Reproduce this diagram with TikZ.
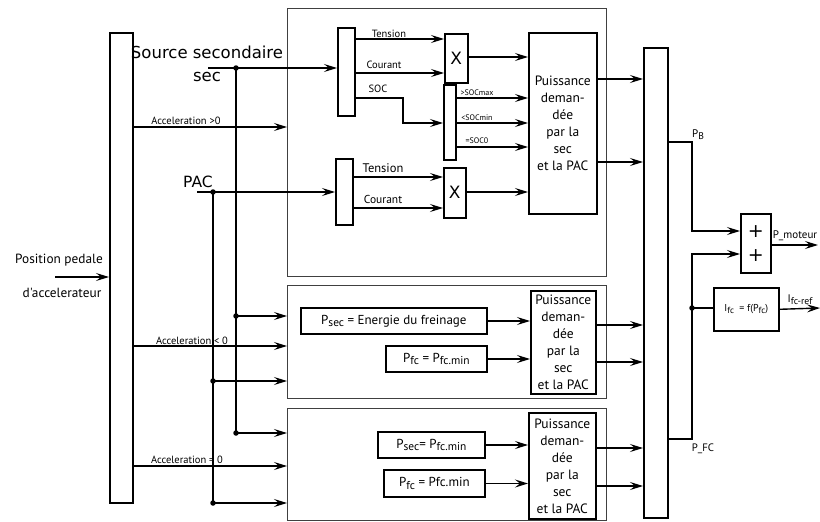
\documentclass[tikz,border=0pt]{standalone}
\usepackage{fontspec}
\setmainfont{DejaVu Sans}
\newfontfamily\pts{PT Sans}
\usetikzlibrary{arrows.meta}
\newcommand\lowr[1]{\raisebox{-0.4ex}{\scalebox{0.88}{#1}}}
\begin{document}
\begin{tikzpicture}[x=1pt,y=-1pt,
  blk/.style={draw, line width=1.6pt, inner sep=0pt, anchor=north west},
  grp/.style={draw=black!75, line width=0.8pt, inner sep=0pt, anchor=north west},
  ln/.style={line width=1.4pt},
  con/.style={line width=1.4pt, -{Stealth[length=13pt,width=8pt,inset=5pt]}},
  dot/.style={circle, fill, inner sep=0pt, minimum size=5.5pt},
  lbl/.style={inner sep=0pt, font=\pts\fontsize{10.5}{11}\selectfont},
  pd/.style={blk, align=center, font=\pts\fontsize{13.5}{17}\selectfont},
  eq/.style={blk, line width=1.8pt, font=\pts\fontsize{13}{14}\selectfont, anchor=west, inner xsep=2pt}]
\useasboundingbox (0,0) rectangle (820,522);
% group boxes
\node[grp, minimum width=319pt, minimum height=268pt] (topgrp) at (287,8) {};
\node[grp, minimum width=319pt, minimum height=113pt] (midgrp) at (287,285) {};
\node[grp, minimum width=319pt, minimum height=112pt] (botgrp) at (287,408) {};
% main blocks
\node[blk, minimum width=23pt, minimum height=470pt] (L) at (109,32) {};
\node[blk, minimum width=24pt, minimum height=470pt] (R) at (643,47) {};
\node[blk, minimum width=17pt, minimum height=88pt] (S1) at (337,27) {};
\node[blk, minimum width=17pt, minimum height=66pt] (S2) at (335,158) {};
\node[blk, minimum width=23pt, minimum height=49pt, font=\fontsize{17}{18}\selectfont] (X1) at (444,33) {X};
\node[blk, minimum width=22pt, minimum height=50pt, font=\fontsize{17}{18}\selectfont] (X2) at (443,167) {X};
\node[blk, minimum width=12pt, minimum height=75pt] (SOCs) at (443,84) {};
\node[pd, minimum width=68pt, minimum height=181pt] (PD1) at (528,32) {Puissance\\deman-\\dée\\par la\\sec\\et la PAC};
\node[pd, minimum width=65pt, minimum height=103pt] (PD2) at (530,290) {Puissance\\deman-\\dée\\par la\\sec\\et la PAC};
\node[pd, minimum width=67pt, minimum height=106pt] (PD3) at (528,412) {Puissance\\deman-\\dée\\par la\\sec\\et la PAC};
\node[blk, minimum width=30pt, minimum height=59pt, align=center, font=\fontsize{19}{24}\selectfont] (Plus) at (740,213) {+\\+};
\node[blk, minimum width=65pt, minimum height=43pt, font=\pts\fontsize{10}{11}\selectfont] (Ifc) at (713,287) {I\lowr{fc} \ = f(P\lowr{fc})};
% equation boxes
\node[eq, minimum width=186pt, minimum height=26pt] (Psec1) at (300,321) {P\lowr{sec} = Energie du freinage};
\node[eq, minimum width=101pt, minimum height=26pt] (Pfc1) at (385,359) {P\lowr{fc} = P\lowr{fc.min}};
\node[eq, minimum width=107pt, minimum height=26pt, inner xsep=0.5pt] (Psec2) at (377,445) {P\lowr{sec}= P\lowr{fc.min}\hspace{12pt}};
\node[eq, minimum width=101pt, minimum height=27pt] (Pfc2) at (383,483.5) {P\lowr{fc} = Pfc.min};
% helper coordinates
\foreach \v in {39,57,73,79,98,123,127,147,162,177,192,208,231,245,254,308,316,321,325,346,359,362,381,433,445,448,466,483,486,503}
  {\coordinate (y\v) at (0,\v);}
\coordinate (secL) at (208,68);
\coordinate (secD) at (236,68);
\coordinate (pacL) at (197,192);
\coordinate (pacD) at (213,192);
\coordinate (d316) at (236,316);
\coordinate (d381) at (213,381);
\coordinate (d433) at (236,433);
\coordinate (d503) at (213,503);
\coordinate (pp) at (55,277);
\coordinate (socc) at (403,123);
\coordinate (pb) at (692,142);
\coordinate (pf) at (692,439);
\coordinate (d308) at (692,308);
\coordinate (pm) at (818,245);
\coordinate (ir) at (820,308);
% left side
\draw[con] (pp) -- (L.west |- pp);
\draw[con] (secL) -- (S1.west |- secL);
\draw[con] (pacL) -- (S2.west |- pacL);
\draw[ln] (secD) -- (d433);
\draw[ln] (pacD) -- (d503);
\draw[con] (L.east |- y127) -- (topgrp.west |- y127);
\draw[con] (L.east |- y346) -- (midgrp.west |- y346);
\draw[con] (L.east |- y466) -- (botgrp.west |- y466);
\draw[con] (d316) -- (midgrp.west |- d316);
\draw[con] (d381) -- (midgrp.west |- d381);
\draw[con] (d433) -- (botgrp.west |- d433);
\draw[con] (d503) -- (botgrp.west |- d503);
\foreach \p in {secD,pacD,d316,d381,d433,d503} \node[dot] at (\p) {};
% top group internals
\draw[con] (S1.east |- y39) -- (X1.west |- y39);
\draw[con] (S1.east |- y73) -- (X1.west |- y73);
\draw[con] (S1.east |- y98) -| (socc) -- (SOCs.west |- socc);
\draw[con] (X1.east |- y57) -- (PD1.west |- y57);
\draw[con] (SOCs.east |- y98) -- (PD1.west |- y98);
\draw[con] (SOCs.east |- y123) -- (PD1.west |- y123);
\draw[con] (SOCs.east |- y147) -- (PD1.west |- y147);
\draw[con] (S2.east |- y177) -- (X2.west |- y177);
\draw[con] (S2.east |- y208) -- (X2.west |- y208);
\draw[con] (X2.east |- y192) -- (PD1.west |- y192);
% middle / bottom internals
\draw[con] (Psec1.east) -- (PD2.west |- Psec1.east);
\draw[con] (Pfc1.east) -- (PD2.west |- Pfc1.east);
\draw[con] (Psec2.east) -- (PD3.west |- Psec2.east);
\draw[con] (Pfc2.east) -- (PD3.west |- Pfc2.east);
% into R
\draw[con] (PD1.east |- y79) -- (R.west |- y79);
\draw[con] (PD1.east |- y162) -- (R.west |- y162);
\draw[con] (PD2.east |- y325) -- (R.west |- y325);
\draw[con] (PD2.east |- y362) -- (R.west |- y362);
\draw[con] (PD3.east |- y448) -- (R.west |- y448);
\draw[con] (PD3.east |- y486) -- (R.west |- y486);
% right side
\draw[con] (R.east |- pb) -- (pb) |- (Plus.west |- y231);
\draw[con] (R.east |- pf) -- (pf) |- (Plus.west |- y254);
\draw[ln] (d308) -- (Ifc.west |- d308);
\node[dot] at (d308) {};
\draw[con] (Plus.east |- pm) -- (pm);
\draw[con] (Ifc.east) -- (ir);
% labels
\node[align=center, inner sep=0pt, font=\fontsize{16.5}{23}\selectfont] (srcL) at (207,64) {Source secondaire\\sec};
\node[inner sep=0pt, font=\fontsize{15.5}{16}\selectfont] (pacT) at (198,182) {PAC};
\node[inner sep=0pt, font=\pts\fontsize{13.3}{14}\selectfont] (posA) at (59,260) {Position pedale};
\node[inner sep=0pt, font=\pts\fontsize{13.3}{14}\selectfont] (posB) at (62,293) {d'accelerateur};
\node[lbl] (acc1) at (186,121) {Acceleration >0};
\node[lbl] (acc2) at (192,341) {Acceleration < 0};
\node[lbl] (acc3) at (187,460) {Acceleration = 0};
\node[lbl] (tens1) at (389,34) {Tension};
\node[lbl] (cour1) at (384,65) {Courant};
\node[lbl] (socT) at (378,89) {SOC};
\node[lbl, font=\pts\fontsize{8}{9}\selectfont] (smax) at (477,93) {>SOCmax};
\node[lbl, font=\pts\fontsize{8}{9}\selectfont] (smin) at (477,118) {<SOCmin};
\node[lbl, font=\pts\fontsize{8}{9}\selectfont] (s0) at (477,141) {=SOC0};
\node[lbl, font=\pts\fontsize{12.5}{13}\selectfont] (tens2) at (383,168) {Tension};
\node[lbl, font=\pts\fontsize{11.5}{12}\selectfont] (cour2) at (383,199) {Courant};
\node[lbl, font=\pts\fontsize{11}{12}\selectfont] (pbT) at (698,135) {P\lowr{B}};
\node[lbl, font=\pts\fontsize{10.8}{12}\selectfont] (pfcT) at (703,449) {P\_FC};
\node[lbl, font=\pts\fontsize{11}{12}\selectfont] (pmT) at (795,236) {P\_moteur};
\node[lbl, font=\pts\fontsize{11}{12}\selectfont] (irT) at (800,300) {I\lowr{fc-ref}};
\end{tikzpicture}
\end{document}
